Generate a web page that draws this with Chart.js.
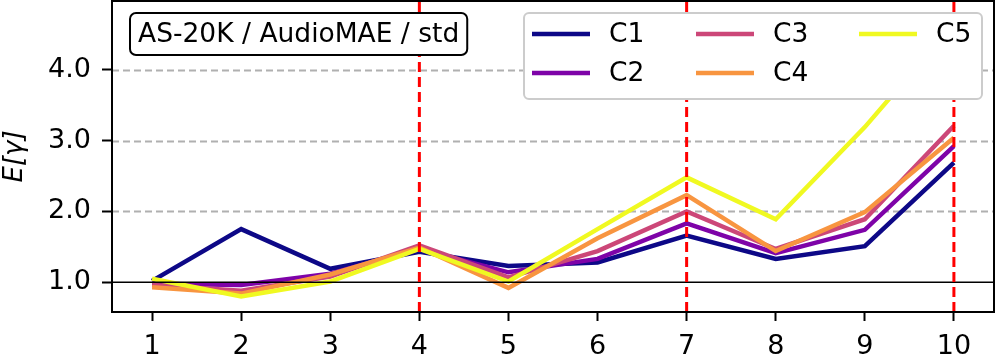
<!doctype html>
<html>
<head>
<meta charset="utf-8">
<title>E[gamma] per layer</title>
<script src="https://cdn.jsdelivr.net/npm/chart.js"></script>
<style>
  html, body { margin: 0; padding: 0; background: #fff; }
  #wrap { width: 997px; height: 361px; }
</style>
</head>
<body>
<div id="wrap"><canvas id="grafico"></canvas></div>
<script>
// values
var layers = [1, 2, 3, 4, 5, 6, 7, 8, 9, 10];
var c1 = [1.02, 1.75, 1.19, 1.43, 1.23, 1.28, 1.66, 1.33, 1.51, 2.69];
var c2 = [0.98, 0.96, 1.12, 1.47, 1.14, 1.33, 1.83, 1.41, 1.74, 2.92];
var c3 = [0.96, 0.88, 1.08, 1.52, 1.07, 1.44, 2.00, 1.47, 1.89, 3.21];
var c4 = [0.93, 0.84, 1.11, 1.49, 0.92, 1.62, 2.23, 1.44, 1.99, 3.04];
var c5 = [1.05, 0.80, 1.01, 1.47, 1.01, 1.75, 2.48, 1.89, 3.19, 4.65];
var seriesNames = ['C1', 'C2', 'C3', 'C4', 'C5'];
var yTicks = [1, 2, 3, 4];
var markedLayers = [4, 7, 10];
var baseline = 1;
var xMin = 0.55, xMax = 10.45;
var yMin = 0.58, yMax = 4.97;
var boxLabel = 'AS-20K / AudioMAE / std';

var cores = ['#0d0887', '#7e03a8', '#cc4778', '#f89540', '#f0f921'];
var fonte = 'DejaVu Sans';

function pontos(vals) {
  return layers.map(function (x, i) { return { x: x, y: vals[i] }; });
}

var datasets = [c1, c2, c3, c4, c5].map(function (vals, i) {
  return {
    label: seriesNames[i],
    data: pontos(vals),
    borderColor: cores[i],
    backgroundColor: cores[i],
    borderWidth: 4.5,
    pointRadius: 0,
    tension: 0,
    order: 10 - i
  };
});

// linha preta em y = 1
datasets.push({
  label: '_base',
  data: [{ x: xMin, y: baseline }, { x: xMax, y: baseline }],
  borderColor: '#000',
  borderWidth: 1.5,
  pointRadius: 0,
  order: 1
});

// linhas vermelhas tracejadas
markedLayers.forEach(function (m) {
  datasets.push({
    label: '_mark',
    data: [{ x: m, y: yMin }, { x: m, y: yMax }],
    borderColor: '#ff0000',
    borderWidth: 3,
    borderDash: [10, 5],
    pointRadius: 0,
    order: 0
  });
});

var extras = {
  id: 'extras',
  beforeDatasetsDraw: function (chart) {
    var ctx = chart.ctx, a = chart.chartArea, y = chart.scales.y;
    ctx.save();
    ctx.strokeStyle = '#b0b0b0';
    ctx.lineWidth = 2;
    ctx.setLineDash([7, 4]);
    yTicks.forEach(function (v) {
      if (v === baseline) return;
      var py = Math.round(y.getPixelForValue(v)) + 0.5;
      ctx.beginPath();
      ctx.moveTo(a.left, py);
      ctx.lineTo(a.right, py);
      ctx.stroke();
    });
    ctx.restore();
  },
  afterDraw: function (chart) {
    var ctx = chart.ctx, a = chart.chartArea;
    ctx.save();
    // moldura
    ctx.strokeStyle = '#000';
    ctx.lineWidth = 2;
    ctx.strokeRect(a.left, a.top, a.right - a.left, a.bottom - a.top);

    // caixa do titulo
    ctx.font = '26.5px "' + fonte + '"';
    ctx.textBaseline = 'middle';
    ctx.textAlign = 'left';
    var tw = ctx.measureText(boxLabel).width;
    var bx = 130, by = 13, bh = 42, bw = tw + 16;
    ctx.beginPath();
    ctx.roundRect(bx, by, bw, bh, 6);
    ctx.fillStyle = '#fff';
    ctx.fill();
    ctx.lineWidth = 2;
    ctx.strokeStyle = '#000';
    ctx.stroke();
    ctx.fillStyle = '#000';
    ctx.fillText(boxLabel, bx + 8, by + bh / 2 + 1);

    // legenda
    var lx = 524, ly = 13, lw = 458, lh = 86;
    ctx.beginPath();
    ctx.roundRect(lx, ly, lw, lh, 5);
    ctx.fillStyle = '#fff';
    ctx.fill();
    ctx.strokeStyle = '#cccccc';
    ctx.lineWidth = 2;
    ctx.stroke();
    var colX = [532, 696, 859];
    var rowY = [34, 73];
    ctx.font = '26.5px "' + fonte + '"';
    for (var i = 0; i < seriesNames.length; i++) {
      var col = Math.floor(i / 2), row = i % 2;
      var x0 = colX[col], yy = rowY[row];
      ctx.strokeStyle = cores[i];
      ctx.lineWidth = 4.5;
      ctx.beginPath();
      ctx.moveTo(x0, yy);
      ctx.lineTo(x0 + 58, yy);
      ctx.stroke();
      ctx.fillStyle = '#000';
      ctx.fillText(seriesNames[i], x0 + 77, yy + 1);
    }
    ctx.restore();
  }
};

function semMargem(s) {
  s.paddingTop = 0; s.paddingBottom = 0; s.paddingLeft = 0; s.paddingRight = 0;
}

var grafico = new Chart(document.getElementById('grafico').getContext('2d'), {
  type: 'line',
  data: { datasets: datasets },
  options: {
    responsive: true,
    maintainAspectRatio: false,
    animation: false,
    layout: { padding: { top: 1, right: 3, left: 0, bottom: 0 } },
    plugins: {
      legend: { display: false },
      tooltip: { enabled: false }
    },
    scales: {
      x: {
        type: 'linear',
        min: xMin,
        max: xMax,
        afterBuildTicks: function (s) { s.ticks = layers.map(function (v) { return { value: v }; }); },
        afterFit: function (s) { s.height = 49; semMargem(s); },
        border: { display: false },
        grid: { drawOnChartArea: false, drawTicks: true, tickLength: 9, tickColor: '#000', tickWidth: 2 },
        ticks: { color: '#000', padding: 10, maxRotation: 0, autoSkip: false, font: { family: fonte, size: 27 } }
      },
      y: {
        min: yMin,
        max: yMax,
        afterBuildTicks: function (s) { s.ticks = yTicks.map(function (v) { return { value: v }; }); },
        afterFit: function (s) { s.width = 112; semMargem(s); },
        border: { display: false },
        grid: { drawOnChartArea: false, drawTicks: true, tickLength: 10, tickColor: '#000', tickWidth: 2 },
        ticks: {
          color: '#000', padding: 11, font: { family: fonte, size: 27 },
          callback: function (v) { return v.toFixed(1); }
        },
        title: {
          display: true, text: 'E[γ]', color: '#000',
          padding: { top: 0, bottom: 0 },
          font: { family: fonte, size: 26, style: 'italic' }
        }
      }
    }
  },
  plugins: [extras]
});
</script>
</body>
</html>
